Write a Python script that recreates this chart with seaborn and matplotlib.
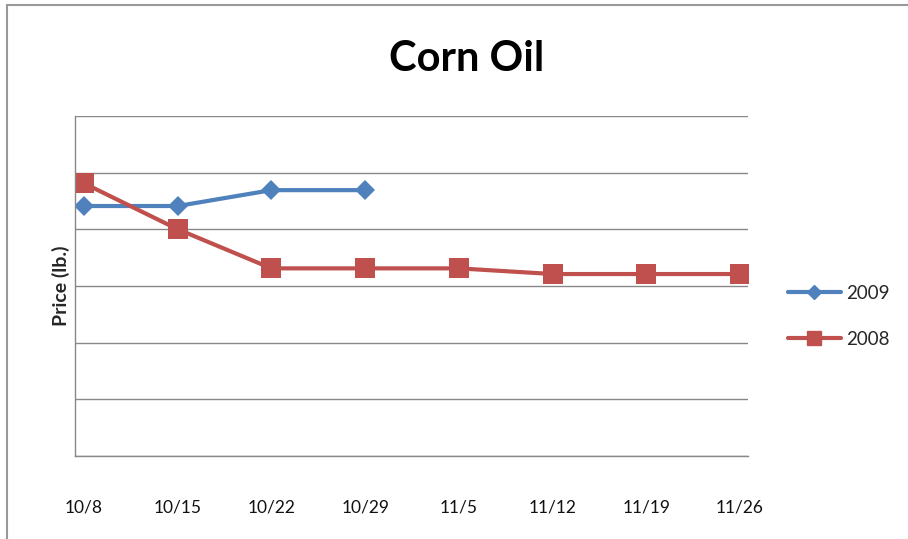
import pandas as pd
import numpy as np
import matplotlib
matplotlib.use('Agg')
import matplotlib.pyplot as plt
from matplotlib.lines import Line2D
import seaborn as sns

# data (grid units, no y tick labels shown)
dates = ['10/8', '10/15', '10/22', '10/29', '11/5', '11/12', '11/19', '11/26']
price_2009 = [4.41, 4.41, 4.69, 4.69]
price_2008 = [4.81, 4.00, 3.31, 3.31, 3.31, 3.21, 3.21, 3.21]

df = pd.concat([
    pd.DataFrame({'pos': range(len(price_2009)), 'price': price_2009, 'year': '2009'}),
    pd.DataFrame({'pos': range(len(price_2008)), 'price': price_2008, 'year': '2008'}),
])

sns.set_style('white')
plt.rcParams['font.family'] = ['Lato', 'DejaVu Sans']

fig = plt.figure(figsize=(9.08, 5.39), dpi=100)
ax = fig.add_axes([0.0826, 0.154, 0.7412, 0.631])

palette = {'2009': '#4F81BD', '2008': '#C0504D'}
sns.lineplot(data=df, x='pos', y='price', hue='year', style='year',
             markers={'2009': 'D', '2008': 's'}, dashes=False,
             palette=palette, linewidth=3, markersize=14, markeredgewidth=0,
             ax=ax, legend=False)
# diamonds are drawn smaller than squares
for line in ax.get_lines():
    if line.get_marker() == 'D':
        line.set_markersize(10)

ax.set_xlim(-0.096, 7.085)
ax.set_ylim(0, 6)
ax.set_yticks(np.arange(0, 7, 1))
ax.set_yticklabels([])
ax.tick_params(axis='y', length=0)
ax.yaxis.grid(True, color='#888888', linewidth=1)
ax.set_axisbelow(True)
ax.set_xticks(range(len(dates)))
ax.set_xticklabels(dates, fontsize=12.5, color='#111111')
ax.tick_params(axis='x', length=0, pad=31)
for s in ['top', 'right']:
    ax.spines[s].set_visible(False)
for s in ['left', 'bottom']:
    ax.spines[s].set_color('#888888')
    ax.spines[s].set_linewidth(1)
ax.set_xlabel('')
ax.set_ylabel('Price (lb.)', fontsize=14, fontweight='bold', labelpad=0)

fig.text(0.514, 0.89, 'Corn Oil', ha='center', va='center', fontsize=30,
         fontweight='bold', color='black')

handles = [Line2D([], [], color=palette['2009'], marker='D', markersize=7, linewidth=3),
           Line2D([], [], color=palette['2008'], marker='s', markersize=10, linewidth=3)]
fig.legend(handles, ['2009', '2008'], loc='center left', bbox_to_anchor=(0.868, 0.413),
           frameon=False, fontsize=13.5, handlelength=2.8, labelspacing=1.55,
           handletextpad=0.3, borderaxespad=0, borderpad=0)

# outer chart border (cropped screenshot)
fig.add_artist(Line2D([0.008, 0.008], [0, 0.99], color='#999999', linewidth=1.5, transform=fig.transFigure))
fig.add_artist(Line2D([0.008, 1.0], [0.99, 0.99], color='#999999', linewidth=1.5, transform=fig.transFigure))

fig.savefig('out.png', dpi=100)
